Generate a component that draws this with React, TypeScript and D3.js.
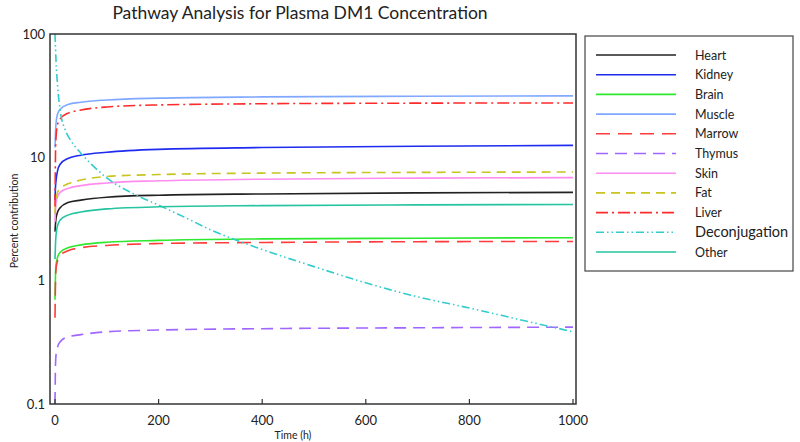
import React from "react";
import * as d3 from "d3";

const times = [0, 1, 2, 5, 10, 25, 50, 100, 200, 400, 700, 1000];
const heart = [2.5, 2.9, 3.2, 3.6, 3.9, 4.3, 4.5, 4.75, 4.93, 5.05, 5.15, 5.2];
const kidney = [4.5, 5.8, 6.5, 7.8, 8.8, 9.8, 10.4, 11.0, 11.6, 12.0, 12.3, 12.5];
const brain = [0.7, 1.15, 1.35, 1.55, 1.7, 1.85, 1.95, 2.05, 2.12, 2.18, 2.21, 2.23];
const muscle = [12, 16, 19, 22.5, 24.5, 26.8, 28.0, 29.2, 30.2, 30.9, 31.3, 31.5];
const marrow = [0.5, 1.0, 1.25, 1.45, 1.6, 1.75, 1.85, 1.93, 2.0, 2.04, 2.07, 2.08];
const thymus = [0.1, 0.21, 0.25, 0.29, 0.32, 0.35, 0.365, 0.385, 0.398, 0.408, 0.415, 0.42];
const skin = [3.0, 3.8, 4.3, 4.8, 5.2, 5.6, 5.9, 6.2, 6.45, 6.65, 6.78, 6.85];
const fat = [3.5, 4.2, 4.6, 5.2, 5.6, 6.1, 6.55, 7.0, 7.25, 7.45, 7.55, 7.6];
const liver = [4, 11, 14.5, 18.5, 20.5, 22.8, 24.2, 25.6, 26.6, 27.2, 27.5, 27.6];
const other = [1.5, 2.0, 2.35, 2.8, 3.1, 3.4, 3.6, 3.82, 3.97, 4.06, 4.12, 4.15];

const deconTimes = [0, 2, 5, 10, 20, 30, 50, 75, 100, 150, 200, 250, 300, 400, 500, 600, 700, 800, 900, 1000];
const deconValues = [100, 60, 38, 24, 16.6, 13.8, 10.8, 8.4, 6.8, 5.1, 4.1, 3.27, 2.59, 1.79, 1.3, 0.96, 0.74, 0.6, 0.48, 0.385];

const seriesNames = ["Heart", "Kidney", "Brain", "Muscle", "Marrow", "Thymus", "Skin", "Fat", "Liver", "Deconjugation", "Other"];
const seriesColors = ["#222222", "#1f2bf0", "#2ee82e", "#80a8ff", "#ff3b3b", "#a066ff", "#ff8cf0", "#c8c420", "#ff2a2a", "#33cccc", "#26c4a0"];
const seriesDashes = ["", "", "", "", "14,8", "12,7", "", "9,6", "12,4,2,4", "8,3,1.5,3,1.5,3", ""];

const xTicks = [0, 200, 400, 600, 800, 1000];
const yTicks = [0.1, 1, 10, 100];

export default function App() {
  const left = 50, right = 576, top = 34, bottom = 404;
  const x = d3.scaleLinear().domain([0, 1000]).range([55, 573]);
  const y = d3.scaleLog().domain([0.1, 100]).range([bottom, top]);
  const line = d3
    .line<[number, number]>()
    .x((d) => x(d[0]))
    .y((d) => y(d[1]))
    .curve(d3.curveMonotoneX);

  const organValues = [heart, kidney, brain, muscle, marrow, thymus, skin, fat, liver, null, other];
  const paths = seriesNames.map((name, i) => {
    const pts: [number, number][] =
      name === "Deconjugation"
        ? deconTimes.map((t, j) => [t, deconValues[j]])
        : times.map((t, j) => [t, (organValues[i] as number[])[j]]);
    return line(pts) as string;
  });

  const font = "Lato, 'Open Sans', sans-serif";

  return (
    <svg width={800} height={442} style={{ position: "absolute", left: 0, top: 0 }} fontFamily={font}>
      <rect x={0} y={0} width={800} height={442} fill="#ffffff" />
      <text x={300} y={19} textAnchor="middle" fontSize={17.5} fill="#222">
        Pathway Analysis for Plasma DM1 Concentration
      </text>

      <defs>
        <clipPath id="plotClip">
          <rect x={left} y={top} width={right - left} height={bottom - top} />
        </clipPath>
      </defs>

      <g clipPath="url(#plotClip)">
        {paths.map((d, i) => (
          <path
            key={seriesNames[i]}
            d={d}
            fill="none"
            stroke={seriesColors[i]}
            strokeWidth={1.6}
            strokeDasharray={seriesDashes[i] || undefined}
          />
        ))}
      </g>

      <rect x={left} y={top} width={right - left} height={bottom - top} fill="none" stroke="#333" strokeWidth={1.5} />

      {xTicks.map((t) => (
        <g key={t}>
          <line x1={x(t)} x2={x(t)} y1={bottom} y2={bottom - 5} stroke="#333" strokeWidth={1.2} />
          <text x={x(t)} y={425} textAnchor="middle" fontSize={13} fill="#222">
            {t}
          </text>
        </g>
      ))}
      {yTicks.map((t) => (
        <text key={t} x={45} y={y(t) + 4.5} textAnchor="end" fontSize={13} fill="#222">
          {t}
        </text>
      ))}

      <text x={293} y={439} textAnchor="middle" fontSize={10.5} fill="#222">
        Time (h)
      </text>
      <text
        transform={`translate(18, 221) rotate(-90)`}
        textAnchor="middle"
        fontSize={10.5}
        fill="#222"
      >
        Percent contribution
      </text>

      <rect x={585} y={36} width={208} height={235} fill="#fff" stroke="#444" strokeWidth={1.2} />
      {seriesNames.map((name, i) => {
        const ly = 55 + i * 19.7;
        return (
          <g key={name}>
            <line
              x1={596}
              x2={676}
              y1={ly}
              y2={ly}
              stroke={seriesColors[i]}
              strokeWidth={1.6}
              strokeDasharray={seriesDashes[i] || undefined}
            />
            <text x={695} y={ly + 4.5} fontSize={name === "Deconjugation" ? 14.5 : 12.5} fill="#222">
              {name}
            </text>
          </g>
        );
      })}
    </svg>
  );
}
